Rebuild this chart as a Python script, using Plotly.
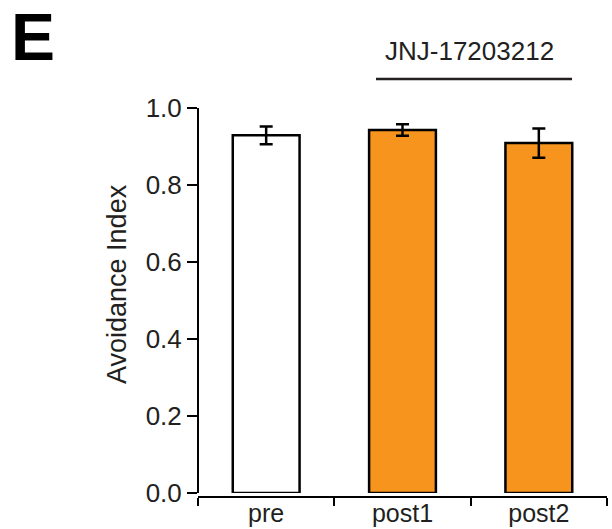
import plotly.graph_objects as go

categories = ["pre", "post1", "post2"]
values = [0.929, 0.943, 0.909]
errors = [0.023, 0.015, 0.038]
colors = ["#FFFFFF", "#F7941D", "#F7941D"]
y_ticks = [0.0, 0.2, 0.4, 0.6, 0.8, 1.0]
y_ticklabels = ["0.0", "0.2", "0.4", "0.6", "0.8", "1.0"]

FONT = "Liberation Sans, Arial, sans-serif"
TXT = "#231F20"

fig = go.Figure()
fig.add_trace(go.Bar(
    x=categories, y=values,
    width=0.49,
    marker=dict(color=colors, line=dict(color="black", width=2.5)),
    error_y=dict(type="data", array=errors, visible=True,
                 color="black", thickness=2.5, width=6.5),
))

fig.update_layout(
    width=612, height=529,
    margin=dict(l=198, r=5, t=108, b=32),
    paper_bgcolor="white", plot_bgcolor="white",
    showlegend=False,
    font=dict(family=FONT, color=TXT, size=26),
    xaxis=dict(
        range=[-0.5, 2.5], showline=True, linecolor="black", linewidth=2,
        ticks="outside", tickson="boundaries", ticklen=8, tickwidth=2,
        tickcolor="black", showgrid=False, zeroline=False,
        anchor="free", position=0, automargin=False,
        ticklabelstandoff=-6,
        tickfont=dict(size=25, color=TXT, family=FONT),
    ),
    yaxis=dict(
        range=[0, 1.0], domain=[4/389, 1],
        showline=True, linecolor="black", linewidth=2,
        ticks="outside", ticklen=10, tickwidth=2, tickcolor="black",
        tickvals=y_ticks, ticktext=y_ticklabels,
        showgrid=False, zeroline=False,
        anchor="free", position=0, automargin=False,
        tickfont=dict(size=26, color=TXT, family=FONT),
    ),
)

fig.add_annotation(
    text="Avoidance Index", textangle=-90,
    xref="paper", yref="paper", x=(117-198)/409, y=(497-284)/389,
    showarrow=False, font=dict(size=27, color=TXT, family=FONT),
    xanchor="center", yanchor="middle",
)
fig.add_annotation(
    text="<b>E</b>", xref="paper", yref="paper",
    x=(33-198)/409, y=(497-37)/389,
    showarrow=False, font=dict(size=66, color="black", family=FONT),
    xanchor="center", yanchor="middle",
)
fig.add_annotation(
    text="JNJ-17203212", xref="paper", yref="paper",
    x=(469-198)/409, y=(497-51)/389,
    showarrow=False, font=dict(size=26, color=TXT, family=FONT),
    xanchor="center", yanchor="middle",
)
fig.add_shape(
    type="line", xref="paper", yref="paper",
    x0=(376-198)/409, x1=(572-198)/409,
    y0=(497-79)/389, y1=(497-79)/389,
    line=dict(color=TXT, width=2.5),
)

fig.write_html("out.html")
